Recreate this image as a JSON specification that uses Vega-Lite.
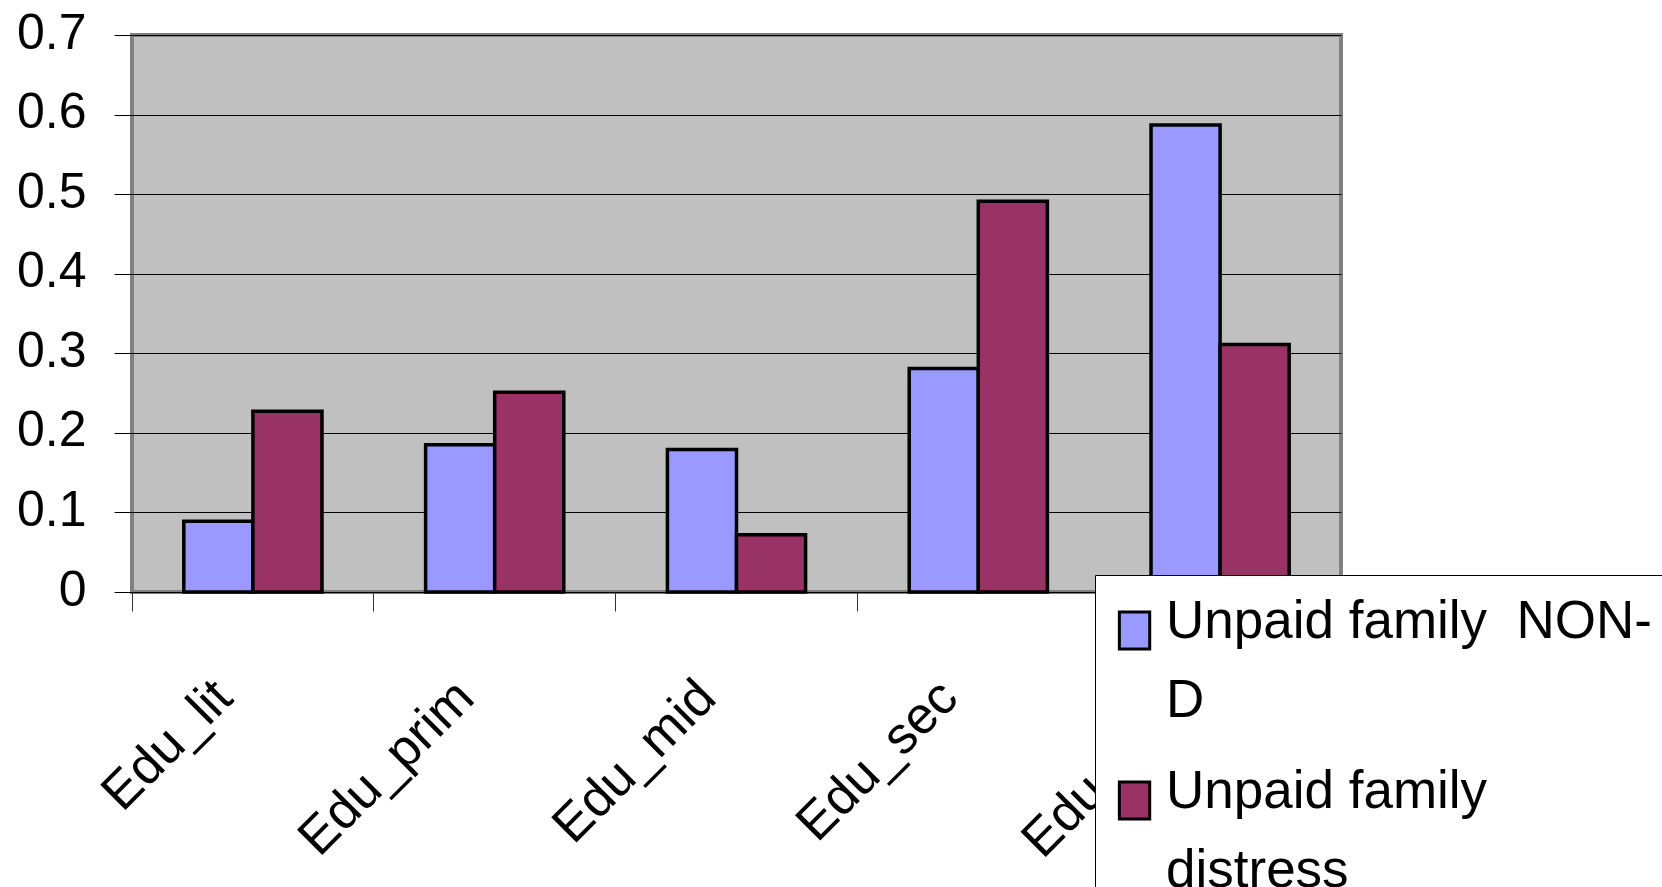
{
  "$schema": "https://vega.github.io/schema/vega-lite/v6.json",
  "width": 1209,
  "height": 557,
  "autosize": {"type": "none"},
  "padding": {"left": 132, "top": 35, "right": 321, "bottom": 295},
  "background": "white",
  "data": {
    "values": [
      {"edu": "Edu_lit", "series": "Unpaid family NON-D", "value": 0.089},
      {"edu": "Edu_lit", "series": "Unpaid family distress", "value": 0.227},
      {"edu": "Edu_prim", "series": "Unpaid family NON-D", "value": 0.185},
      {"edu": "Edu_prim", "series": "Unpaid family distress", "value": 0.251},
      {"edu": "Edu_mid", "series": "Unpaid family NON-D", "value": 0.179},
      {"edu": "Edu_mid", "series": "Unpaid family distress", "value": 0.072},
      {"edu": "Edu_sec", "series": "Unpaid family NON-D", "value": 0.281},
      {"edu": "Edu_sec", "series": "Unpaid family distress", "value": 0.491},
      {"edu": "Edu_grad", "series": "Unpaid family NON-D", "value": 0.587},
      {"edu": "Edu_grad", "series": "Unpaid family distress", "value": 0.311}
    ]
  },
  "config": {
    "view": {"fill": "#C0C0C0", "stroke": "#808080", "strokeWidth": 4},
    "font": "Liberation Sans, Arial"
  },
  "mark": {"type": "bar", "stroke": "black", "strokeWidth": 3.5},
  "encoding": {
    "x": {
      "field": "edu",
      "type": "nominal",
      "sort": null,
      "title": null,
      "scale": {"paddingInner": 0.4286, "paddingOuter": 0.2143},
      "axis": {
        "domain": false,
        "bandPosition": -0.375,
        "tickColor": "#333333",
        "tickSize": 19,
        "tickWidth": 1,
        "labelAngle": -45,
        "labelAlign": "right",
        "labelBaseline": "alphabetic",
        "labelOffset": -18,
        "labelPadding": 89,
        "labelFont": "Liberation Sans, Arial",
        "labelFontSize": 52,
        "labelColor": "black",
        "labelLimit": 0
      }
    },
    "xOffset": {"field": "series", "type": "nominal", "sort": ["Unpaid family NON-D", "Unpaid family distress"]},
    "y": {
      "field": "value",
      "type": "quantitative",
      "title": null,
      "scale": {"domain": [0, 0.7], "nice": false},
      "axis": {
        "values": [0, 0.1, 0.2, 0.3, 0.4, 0.5, 0.6, 0.7],
        "format": ".1~f",
        "domain": false,
        "grid": true,
        "gridColor": "black",
        "gridWidth": 1,
        "gridOpacity": 1,
        "tickColor": "black",
        "tickSize": 18,
        "labelPadding": 28,
        "labelOffset": -2,
        "labelFont": "Liberation Sans, Arial",
        "labelFontSize": 50,
        "labelColor": "black"
      }
    },
    "color": {
      "field": "series",
      "type": "nominal",
      "title": null,
      "scale": {
        "domain": ["Unpaid family NON-D", "Unpaid family distress"],
        "range": ["#9999FF", "#993366"]
      },
      "legend": {
        "orient": "none",
        "legendX": 963,
        "legendY": 540,
        "fillColor": "white",
        "strokeColor": "black",
        "padding": 16,
        "cornerRadius": 0,
        "symbolType": "M-0.98,-0.3H0.66V1.7H-0.98Z",
        "symbolSize": 1369,
        "symbolStrokeColor": "black",
        "symbolStrokeWidth": 3,
        "symbolOpacity": 1,
        "labelFont": "Liberation Sans, Arial",
        "labelFontSize": 53,
        "labelColor": "black",
        "labelLimit": 0,
        "labelOffset": 2,
        "rowPadding": 33,
        "labelExpr": "datum.label == 'Unpaid family NON-D' ? ['Unpaid family\u00a0 NON-', 'D'] : ['Unpaid family', 'distress']",
        "encode": {
          "labels": {"update": {"lineHeight": {"value": 79}, "dy": {"value": 4}}}
        }
      }
    }
  }
}
